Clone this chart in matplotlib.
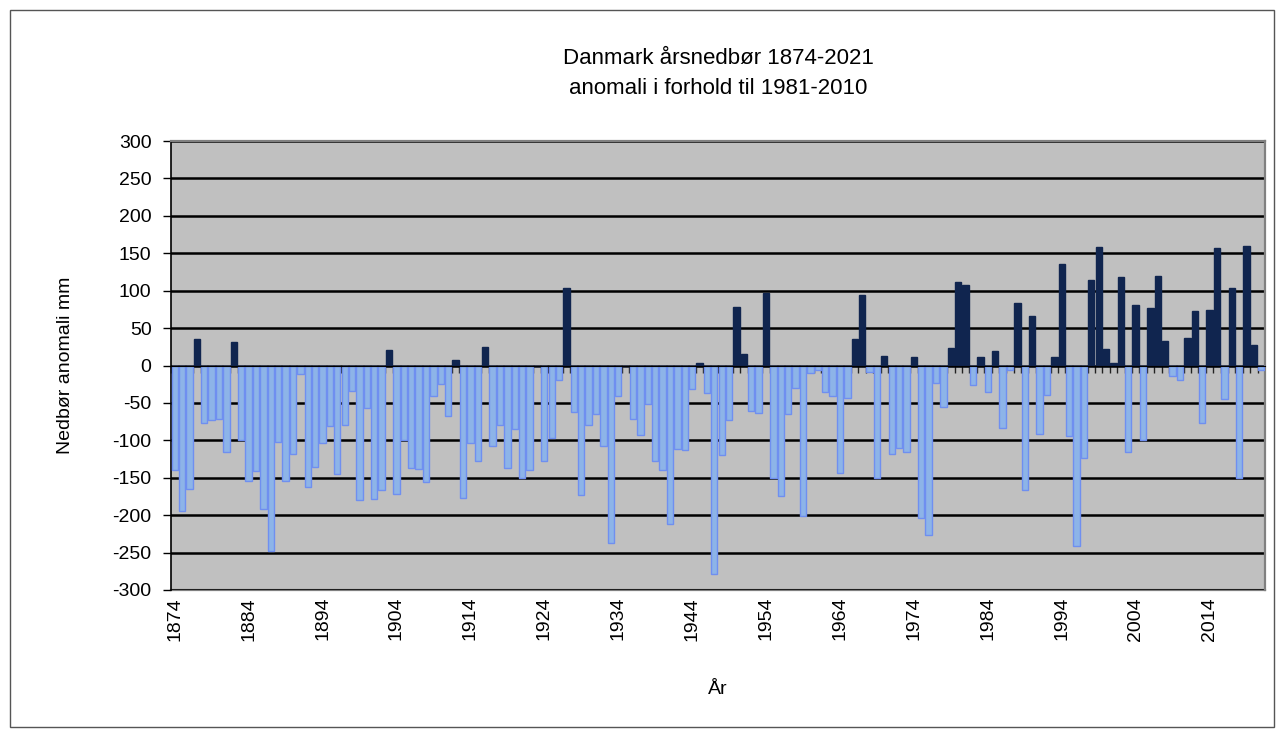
import matplotlib
matplotlib.use("Agg")
import matplotlib.pyplot as plt
from matplotlib.patches import Rectangle
from matplotlib.ticker import MultipleLocator, FixedLocator

plt.rcParams["font.family"] = ["Liberation Sans", "DejaVu Sans"]
plt.rcParams["axes.unicode_minus"] = False

# --- data: annual precipitation anomaly (mm) vs 1981-2010 ---
years = list(range(1874, 2022))
anomaly = [
    -139, -194, -165, 36, -77, -73, -72, -116, 31, -99,        # 1874-1883
    -154, -141, -192, -248, -102, -154, -118, -12, -162, -135,  # 1884-1893
    -104, -81, -145, -79, -34, -180, -57, -178, -166, 21,       # 1894-1903
    -172, -100, -137, -138, -156, -41, -25, -67, 8, -177,       # 1904-1913
    -103, -128, 25, -107, -79, -137, -85, -151, -140, 0,        # 1914-1923
    -128, -97, -20, 104, -62, -173, -79, -65, -107, -237,       # 1924-1933
    -41, 0, -72, -93, -52, -127, -140, -212, -111, -113,        # 1934-1943
    -32, 3, -37, -279, -120, -73, 78, 16, -61, -63,             # 1944-1953
    97, -151, -175, -65, -30, -201, -10, -6, -36, -41,          # 1954-1963
    -144, -44, 36, 94, -9, -151, 13, -118, -110, -116,          # 1964-1973
    12, -204, -227, -24, -55, 24, 111, 108, -26, 12,            # 1974-1983
    -36, 19, -83, -6, 84, -166, 66, -92, -40, 12,               # 1984-1993
    135, -94, -241, -124, 114, 159, 22, 4, 118, -116,           # 1994-2003
    81, -99, 77, 120, 33, -14, -20, 37, 73, -77,                # 2004-2013
    74, 157, -45, 104, -150, 160, 28, -6,                       # 2014-2021
]
label_years = list(range(1874, 2022, 10))

POS_COLOR = "#10254f"
NEG_FILL = "#8db4e8"
NEG_EDGE = "#6f8ff0"

fig = plt.figure(figsize=(12.84, 7.37), dpi=100)
ax = fig.add_axes([171 / 1284, 1 - 590 / 737, 1094 / 1284, 449 / 737])
ax.set_facecolor("#c0c0c0")

fills = [POS_COLOR if v > 0 else NEG_FILL for v in anomaly]
edges = [POS_COLOR if v > 0 else NEG_EDGE for v in anomaly]
ax.bar(years, anomaly, width=0.86, color=fills, edgecolor=edges,
       linewidth=1.0, zorder=3)

ax.set_xlim(years[0] - 0.5, years[-1] + 0.5)
ax.set_ylim(-300, 300)

# gridlines
ax.yaxis.set_major_locator(MultipleLocator(50))
ax.grid(True, axis="y", color="black", linewidth=1.8, zorder=1)
ax.grid(False, axis="x")

# category axis sits at zero, ticks between bars
ax.spines["bottom"].set_position(("data", 0))
ax.spines["bottom"].set_linewidth(0.8)
ax.spines["bottom"].set_zorder(4)
ax.xaxis.set_major_locator(FixedLocator([y - 0.5 for y in years]))
ax.tick_params(axis="x", which="major", direction="out", length=5,
               width=1, color="#222222", labelbottom=False)
for t in ax.xaxis.get_major_ticks():
    t.tick1line.set_zorder(4)

for s in ("top", "right"):
    ax.spines[s].set_color("#808080")
    ax.spines[s].set_linewidth(1.6)
ax.spines["left"].set_linewidth(1.2)

ax.tick_params(axis="y", direction="out", length=6, width=1,
               labelsize=14, pad=8)

# year labels below plot area
sec = ax.secondary_xaxis(0)
sec.set_xticks(label_years)
sec.set_xticklabels([str(y) for y in label_years], rotation=90, fontsize=14)
sec.tick_params(length=0, pad=5)
sec.spines["bottom"].set_color("#808080")
sec.spines["bottom"].set_linewidth(1.6)

ax.set_ylabel("Nedbør anomali mm", fontsize=14)
ax.yaxis.set_label_coords(-0.0887, 0.5)

cx = 718 / 1284
fig.text(cx, 1 - 690 / 737, "År", fontsize=14, ha="center", va="center")
fig.text(cx, 1 - 58 / 737, "Danmark årsnedbør 1874-2021", fontsize=16,
         ha="center", va="center")
fig.text(cx, 1 - 89 / 737, "anomali i forhold til 1981-2010", fontsize=16,
         ha="center", va="center")

fig.patches.append(Rectangle((10 / 1284, 10 / 737), 1264 / 1284, 717 / 737,
                             transform=fig.transFigure, fill=False,
                             edgecolor="#555555", linewidth=1.0))

fig.savefig("out.png", dpi=100)
